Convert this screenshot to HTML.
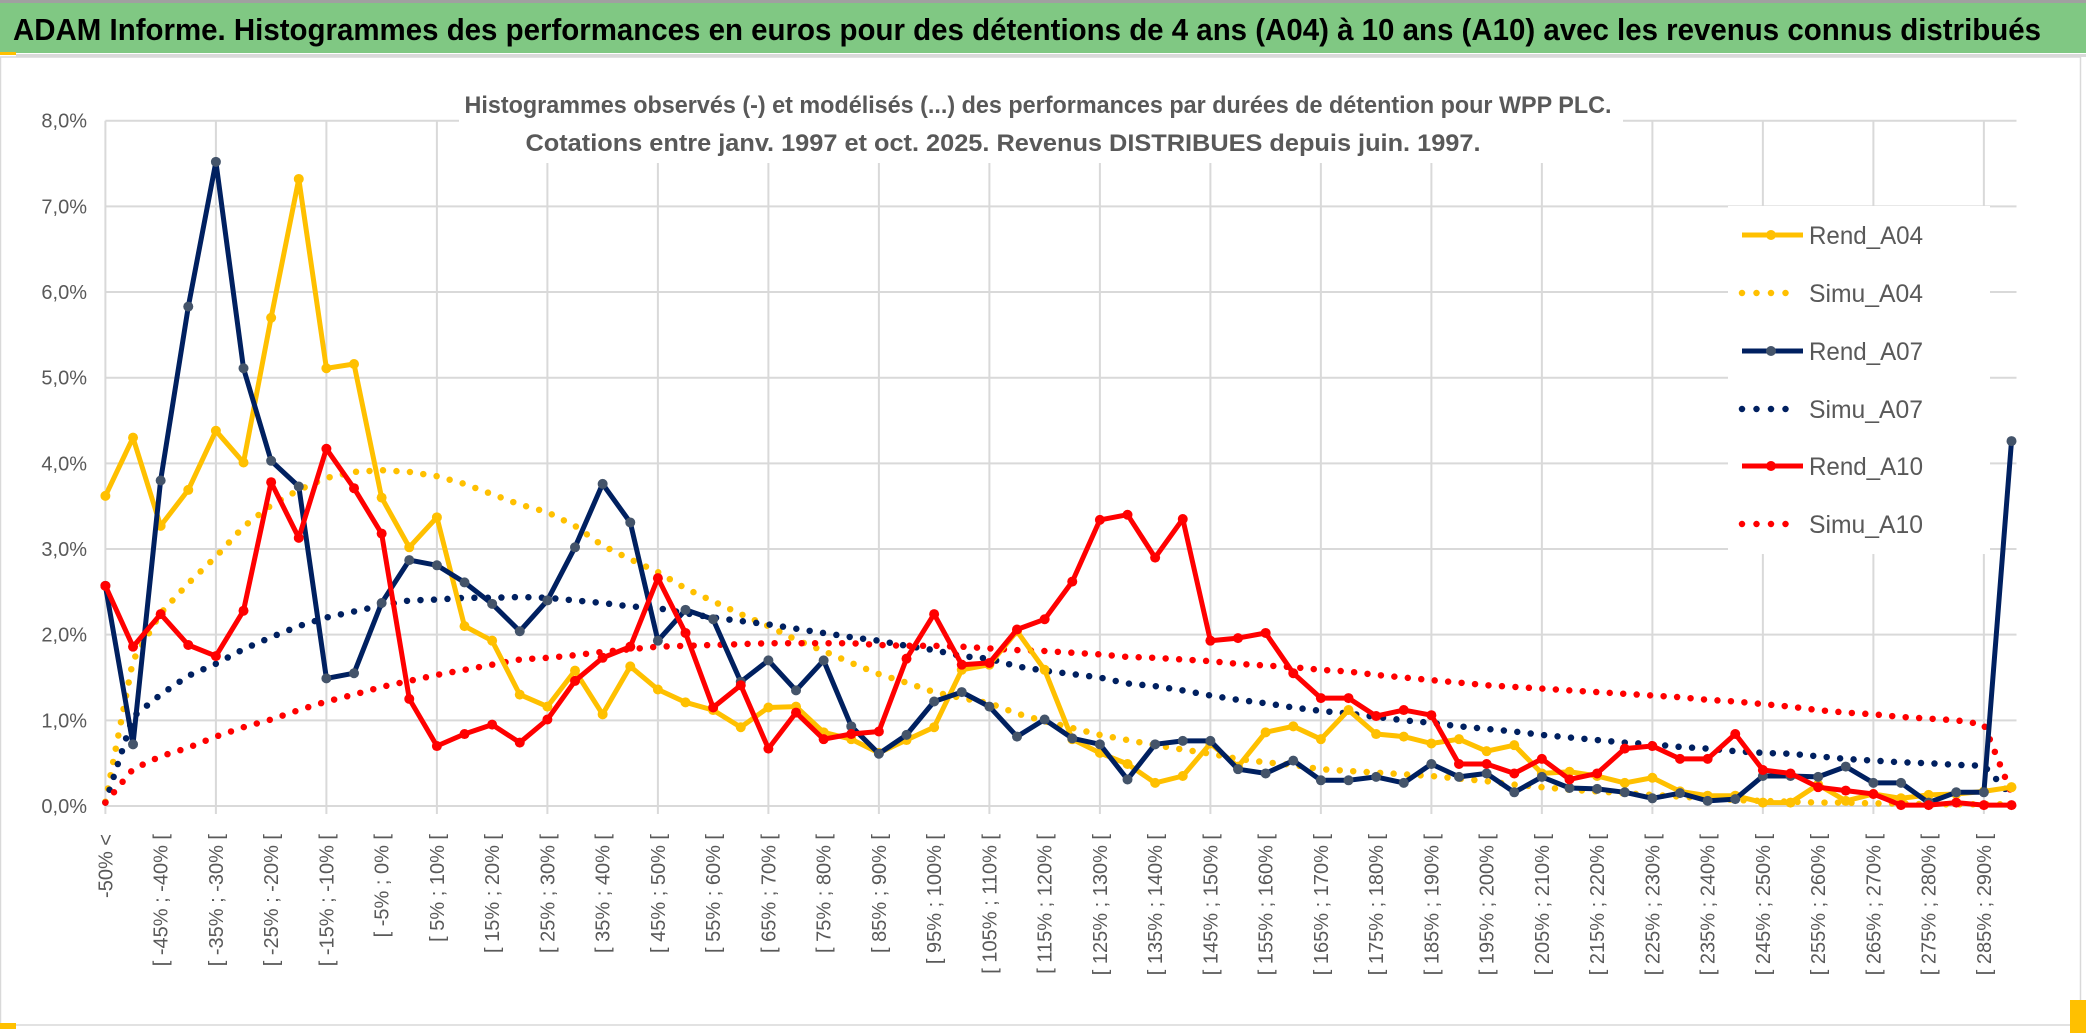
<!DOCTYPE html>
<html><head><meta charset="utf-8"><style>
html,body{margin:0;padding:0;background:#fff;}
svg{display:block;font-family:"Liberation Sans",sans-serif;}
</style></head><body>
<svg id="chart" width="2086" height="1033" viewBox="0 0 2086 1033">
  <rect x="0" y="0" width="2086" height="1033" fill="#fff"/>
  <rect x="0" y="0" width="2086" height="3" fill="#a0a0a0"/>
  <rect x="0" y="3" width="2086" height="50" fill="#80C883"/>
  <rect x="0" y="52" width="16" height="3" fill="#FFC000"/>
  <rect x="16" y="54" width="2070" height="3" fill="#d9d9d9"/>
  <text x="13" y="40" font-size="31" font-weight="bold" fill="#000" textLength="2028" lengthAdjust="spacingAndGlyphs">ADAM Informe. Histogrammes des performances en euros pour des détentions de 4 ans (A04) à 10 ans (A10) avec les revenus connus distribués</text>
  <rect x="0.5" y="57" width="2080" height="968" fill="none" stroke="#d9d9d9" stroke-width="1.5"/>
  <rect x="0" y="1023" width="16" height="6" fill="#FFC000"/>
  <rect x="2070" y="1000" width="16" height="33" fill="#FFC000"/>
  <g id="grid"></g>
  <rect x="459" y="85" width="1164" height="78" fill="#fff"/>
  <g>
    <text x="1038" y="113" font-size="24" font-weight="bold" fill="#595959" text-anchor="middle" textLength="1147" lengthAdjust="spacingAndGlyphs">Histogrammes observés (-) et modélisés (...) des performances par durées de détention pour WPP PLC.</text>
    <text x="1003" y="151" font-size="24" font-weight="bold" fill="#595959" text-anchor="middle" textLength="955" lengthAdjust="spacingAndGlyphs">Cotations entre janv. 1997 et oct. 2025. Revenus DISTRIBUES depuis juin. 1997.</text>
  </g>
  <g id="yaxis"></g>
  <g id="xaxis"></g>
  <g id="series"></g>
  <g id="legend"></g>
</svg>
<script>
const yTicks = [0,1,2,3,4,5,6,7,8];
const yTickLabels = ["0,0%","1,0%","2,0%","3,0%","4,0%","5,0%","6,0%","7,0%","8,0%"];
const rendA04 = [3.62,4.30,3.27,3.69,4.38,4.01,5.70,7.32,5.11,5.16,3.60,3.02,3.37,2.10,1.93,1.30,
 1.16,1.58,1.07,1.63,1.36,1.21,1.12,0.92,1.15,1.16,0.86,0.78,0.62,0.77,0.92,
 1.59,1.65,2.04,1.59,0.78,0.62,0.49,0.27,0.35,0.73,0.46,0.86,0.93,0.78,1.12,
 0.84,0.81,0.73,0.78,0.64,0.71,0.38,0.40,0.35,0.27,0.33,0.17,0.12,0.12,0.04,
 0.04,0.25,0.06,0.14,0.09,0.13,0.14,0.17,0.22];
const rendA07 = [2.57,0.72,3.80,5.83,7.52,5.11,4.03,3.73,1.49,1.55,2.37,2.87,2.81,2.61,2.36,2.04,
 2.40,3.02,3.76,3.31,1.93,2.29,2.18,1.45,1.70,1.35,1.70,0.93,0.61,0.83,1.22,
 1.33,1.16,0.81,1.01,0.79,0.72,0.31,0.72,0.76,0.76,0.43,0.38,0.53,0.30,0.30,
 0.34,0.27,0.49,0.34,0.38,0.16,0.34,0.21,0.20,0.16,0.09,0.15,0.06,0.08,0.35,
 0.35,0.34,0.46,0.27,0.27,0.04,0.16,0.16,4.26];
const rendA10 = [2.57,1.86,2.24,1.88,1.75,2.28,3.78,3.13,4.17,3.71,3.18,1.25,0.70,0.84,0.95,0.74,
 1.01,1.46,1.73,1.86,2.66,2.02,1.15,1.41,0.67,1.09,0.78,0.84,0.87,1.72,2.24,
 1.65,1.67,2.06,2.18,2.62,3.34,3.40,2.90,3.35,1.93,1.96,2.02,1.55,1.26,1.26,
 1.05,1.12,1.06,0.49,0.49,0.38,0.55,0.31,0.38,0.67,0.70,0.55,0.55,0.84,0.42,
 0.38,0.22,0.18,0.14,0.01,0.01,0.04,0.01,0.01];
const simuA04 = [0.05,1.70,2.25,2.60,2.91,3.26,3.51,3.69,3.83,3.90,3.92,3.90,3.85,3.76,3.64,3.52,
 3.43,3.27,3.04,2.88,2.73,2.54,2.39,2.24,2.10,1.94,1.81,1.67,1.54,1.44,1.33,
 1.26,1.20,1.08,0.99,0.91,0.83,0.77,0.71,0.66,0.61,0.55,0.51,0.48,0.43,0.41,
 0.39,0.37,0.35,0.32,0.29,0.25,0.22,0.19,0.17,0.15,0.13,0.11,0.09,0.07,0.06,
 0.05,0.04,0.04,0.03,0.03,0.02,0.02,0.02,0.02];
const simuA07 = [0.04,1.04,1.30,1.52,1.66,1.83,1.97,2.10,2.20,2.27,2.34,2.40,2.41,2.43,2.43,2.44,
 2.43,2.40,2.37,2.33,2.31,2.25,2.20,2.16,2.12,2.07,2.02,1.97,1.93,1.87,1.82,
 1.75,1.72,1.63,1.58,1.54,1.50,1.43,1.40,1.35,1.29,1.24,1.20,1.15,1.11,1.08,
 1.04,1.00,0.97,0.93,0.90,0.87,0.83,0.80,0.77,0.74,0.72,0.69,0.67,0.64,0.62,
 0.61,0.58,0.55,0.53,0.51,0.50,0.48,0.47,0.12];
const simuA10 = [0.04,0.43,0.58,0.68,0.81,0.92,1.01,1.12,1.22,1.30,1.39,1.46,1.53,1.59,1.65,1.71,
 1.73,1.76,1.80,1.83,1.86,1.87,1.88,1.89,1.90,1.90,1.90,1.90,1.88,1.87,1.87,
 1.86,1.84,1.82,1.81,1.79,1.77,1.74,1.73,1.71,1.69,1.66,1.64,1.62,1.59,1.57,
 1.53,1.50,1.47,1.44,1.41,1.39,1.37,1.35,1.33,1.31,1.29,1.27,1.24,1.22,1.19,
 1.16,1.12,1.09,1.07,1.04,1.02,1.00,0.95,0.15];
const categories = ["-50% <"];
for (let a = -50; a <= 290; a += 5) categories.push("[ " + a + "% ; " + (a + 5) + "% [");

const NS = "http://www.w3.org/2000/svg";
const X0 = 105.4, X1 = 2011.5, Y0 = 806, Y8 = 120.7;
function xPos(i){ return X0 + (X1 - X0) * i / (categories.length - 1); }
function yPos(v){ return Y0 - (Y0 - Y8) * v / 8; }
function mk(tag, attrs, parent){
  const e = document.createElementNS(NS, tag);
  for (const k in attrs) e.setAttribute(k, attrs[k]);
  parent.appendChild(e); return e;
}
const grid = document.getElementById('grid');
yTicks.forEach((t) => {
  const l = mk('line', {x1: X0, x2: X1 + 5, y1: yPos(t), y2: yPos(t), stroke: '#d9d9d9', 'stroke-width': 2}, grid);
  
  
});
for (let i = 0; i < categories.length; i += 4) {
  const l = mk('line', {x1: xPos(i), x2: xPos(i), y1: Y8, y2: Y0 + 8, stroke: '#d9d9d9', 'stroke-width': 2}, grid);
  
  
}
const yaxis = document.getElementById('yaxis');
yTicks.forEach((t, k) => {
  const tx = mk('text', {x: 87, y: yPos(t) + 7, 'font-size': 20, fill: '#595959', 'text-anchor': 'end'}, yaxis);
  tx.textContent = yTickLabels[k];
  
  
});
const xaxis = document.getElementById('xaxis');
categories.forEach((c, i) => {
  if (i % 2 !== 0 || i > 68) return;
  const x = xPos(i) + 7, y = 834;
  const tx = mk('text', {x: x, y: y, 'font-size': 20, fill: '#595959', 'text-anchor': 'end', transform: 'rotate(-90 ' + x + ' ' + y + ')'}, xaxis);
  tx.textContent = c;
  
  
});
const series = document.getElementById('series');
function pts(arr){ return arr.map((v, i) => xPos(i).toFixed(1) + ',' + yPos(v).toFixed(1)).join(' '); }
function drawSimu(arr, color, name){
  const p = mk('polyline', {points: pts(arr), fill: 'none', stroke: color, 'stroke-width': 6.5, 'stroke-linecap': 'round', 'stroke-linejoin': 'round', 'stroke-dasharray': '0 13.5'}, series);
  
  
}
function drawRend(arr, color, mcolor, name){
  const g = mk('g', {}, series);
  
  
  mk('polyline', {points: pts(arr), fill: 'none', stroke: color, 'stroke-width': 5, 'stroke-linejoin': 'round'}, g);
  arr.forEach((v, i) => {
    const c = mk('circle', {cx: xPos(i), cy: yPos(v), r: 5, fill: mcolor}, g);
    
    
  });
}
drawSimu(simuA04, '#FFC000', 'simu-a04-line');
drawSimu(simuA07, '#002060', 'simu-a07-line');
drawSimu(simuA10, '#FF0000', 'simu-a10-line');
drawRend(rendA04, '#FFC000', '#FFC000', 'rend-a04-series');
drawRend(rendA07, '#002060', '#44546A', 'rend-a07-series');
drawRend(rendA10, '#FF0000', '#FF0000', 'rend-a10-series');

const legend = document.getElementById('legend');
const lbg = mk('rect', {x: 1728, y: 206, width: 262, height: 348, fill: '#fff'}, legend);


const legendNames = ["Rend_A04","Simu_A04","Rend_A07","Simu_A07","Rend_A10","Simu_A10"];
const legendColors = ['#FFC000','#FFC000','#002060','#002060','#FF0000','#FF0000'];
const legendMarkers = ['#FFC000',null,'#44546A',null,'#FF0000',null];
const legendY = [235,293,351,409,466,524];
legendNames.forEach((n, k) => {
  const g = mk('g', {}, legend);
  
  
  const y = legendY[k];
  if (legendMarkers[k]) {
    mk('line', {x1: 1742, x2: 1803, y1: y, y2: y, stroke: legendColors[k], 'stroke-width': 5}, g);
    mk('circle', {cx: 1771, cy: y, r: 5, fill: legendMarkers[k]}, g);
  } else {
    mk('line', {x1: 1742, x2: 1800, y1: y, y2: y, stroke: legendColors[k], 'stroke-width': 6.5, 'stroke-linecap': 'round', 'stroke-dasharray': '0 14.5'}, g);
  }
  const t = mk('text', {x: 1809, y: y + 9, 'font-size': 25, fill: '#595959', textLength: 114, lengthAdjust: 'spacingAndGlyphs'}, g);
  t.textContent = n;
});
</script>
</body></html>
